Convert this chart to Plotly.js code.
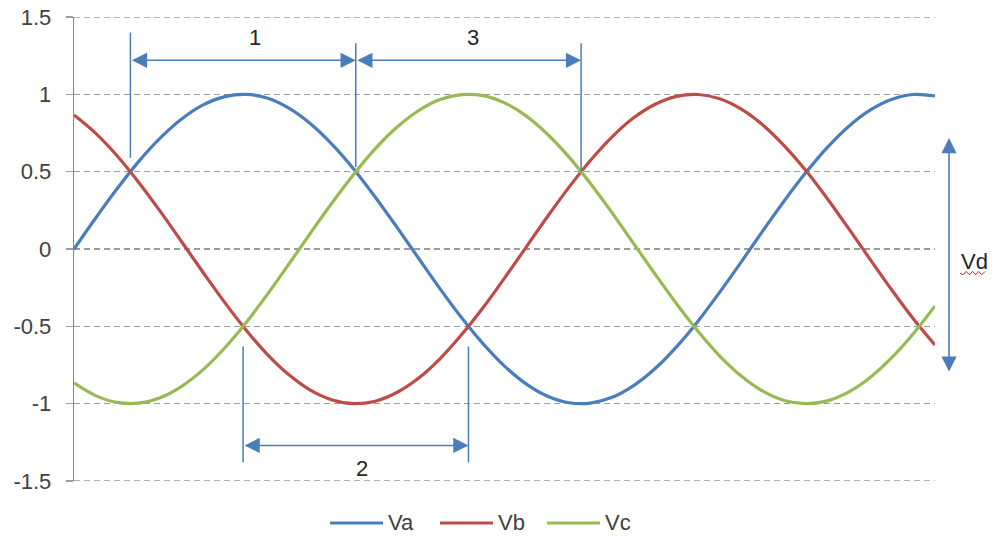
<!DOCTYPE html>
<html>
<head>
<meta charset="utf-8">
<script src="https://cdn.plot.ly/plotly-3.0.1.min.js"></script>
<style>html,body{margin:0;padding:0;background:#fff;}#chart{width:999px;height:546px;}</style>
</head>
<body>
<div id="chart"></div>
<script>
// ---- data (angle in radians) ----
const angle = [0,0.2,0.4,0.6,0.8,1.0,1.2,1.4,1.6,1.8,2.0,2.2,2.4,2.6,2.8,3.0,3.2,3.4,3.6,3.8,4.0,
               4.2,4.4,4.6,4.8,5.0,5.2,5.4,5.6,5.8,6.0,6.2,6.4,6.6,6.8,7.0,7.2,7.4,7.6,7.8,8.0];
const Va = [0,0.199,0.389,0.565,0.717,0.841,0.932,0.985,1.000,0.974,0.909,0.808,0.675,0.516,0.335,0.141,
            -0.058,-0.256,-0.443,-0.612,-0.757,-0.872,-0.952,-0.994,-0.996,-0.959,-0.883,-0.773,-0.631,
            -0.465,-0.279,-0.083,0.117,0.312,0.494,0.657,0.794,0.899,0.968,0.999,0.989];
const Vb = [0.866,0.749,0.603,0.432,0.245,0.047,-0.152,-0.345,-0.525,-0.684,-0.815,-0.914,-0.976,-1.000,
            -0.984,-0.928,-0.836,-0.710,-0.555,-0.380,-0.188,0.011,0.210,0.400,0.574,0.725,0.848,0.936,
            0.987,0.999,0.971,0.904,0.802,0.667,0.507,0.325,0.130,-0.070,-0.267,-0.453,-0.621];
const Vc = [-0.866,-0.948,-0.992,-0.997,-0.962,-0.888,-0.780,-0.640,-0.475,-0.290,-0.094,0.106,0.301,0.484,
            0.649,0.787,0.894,0.966,0.998,0.992,0.945,0.861,0.742,0.594,0.422,0.234,0.035,-0.163,-0.356,
            -0.534,-0.692,-0.821,-0.919,-0.979,-1.000,-0.982,-0.924,-0.829,-0.701,-0.546,-0.368];
const seriesNames = ['Va','Vb','Vc'];
const yTicks = [-1.5,-1,-0.5,0,0.5,1,1.5];
const yTickText = ['-1.5','-1','-0.5','0','0.5','1','1.5'];
const yRange = [-1.5, 1.5];

// interval markers: label, start angle, end angle, level, label position
const intervalLabels = ['1','2','3'];
const intervalStart = [0.524, 1.571, 2.618];
const intervalEnd   = [2.618, 3.665, 4.712];
const intervalLevel = [1.22, -1.27, 1.22];
const intervalTextX = [1.68, 2.68, 3.71];
const intervalTextY = [1.37, -1.42, 1.37];
// marker lines: angle, top, bottom
const markerX   = [0.524, 2.618, 4.712, 1.571, 3.665];
const markerTop = [1.40, 1.33, 1.33, -0.63, -0.63];
const markerBot = [0.59, 0.53, 0.50, -1.38, -1.38];

const colors = ['#4A7EBB','#BE4B48','#98B954'];
const arrowColor = '#4A7EBB';
const gridColor = '#9c9c9c';
const gridDash = '6px,4px';
const font = 'Liberation Sans, Arial, sans-serif';
const txtSize = 22;

const traces = [Va, Vb, Vc].map((v, i) => ({
  x: angle, y: v, type: 'scatter', mode: 'lines', name: seriesNames[i],
  line: {color: colors[i], width: 3.2, shape: 'spline', smoothing: 1},
  hoverinfo: 'skip', showlegend: false
}));

const shapes = [];
const annotations = [];

// gridlines at the range ends (Plotly skips them)
yRange.forEach(v => shapes.push({
  type: 'line', xref: 'paper', yref: 'y', x0: 0, x1: 1, y0: v, y1: v, layer: 'below',
  line: {color: gridColor, width: 1.5, dash: gridDash}
}));

markerX.forEach((x, i) => shapes.push({
  type: 'line', xref: 'x', yref: 'y', x0: x, x1: x, y0: markerTop[i], y1: markerBot[i],
  line: {color: arrowColor, width: 1.5}
}));

intervalLabels.forEach((lab, i) => {
  annotations.push({
    xref: 'x', yref: 'y', axref: 'x', ayref: 'y',
    x: intervalEnd[i], y: intervalLevel[i], ax: intervalStart[i], ay: intervalLevel[i],
    text: '', showarrow: true, arrowside: 'end+start',
    arrowhead: 2, startarrowhead: 2, arrowsize: 1.9, startarrowsize: 1.9,
    arrowwidth: 1.6, arrowcolor: arrowColor, standoff: 0, startstandoff: 0
  });
  annotations.push({
    xref: 'x', yref: 'y', x: intervalTextX[i], y: intervalTextY[i],
    xanchor: 'center', yanchor: 'middle',
    text: lab, showarrow: false, font: {family: font, size: txtSize, color: '#262626'}
  });
});

// Vd double arrow (right of the plot)
annotations.push({
  xref: 'paper', yref: 'paper', x: 1.0163, y: 0.739, ax: 0, ay: 235,
  text: '', showarrow: true, arrowside: 'end+start',
  arrowhead: 2, startarrowhead: 2, arrowsize: 1.9, startarrowsize: 1.9,
  arrowwidth: 1.6, arrowcolor: arrowColor, standoff: 0, startstandoff: 0
});
annotations.push({
  xref: 'paper', yref: 'paper', x: 1.0275, y: 0.472, xanchor: 'left', yanchor: 'middle',
  text: 'Vd', showarrow: false,
  font: {family: font, size: txtSize, color: '#262626'}
});
// spell-check squiggle under Vd
(function(){
  const x0 = 1.0290, x1 = 1.0580, yb = 0.4480, n = 8, amp = 0.0035;
  let p = 'M' + x0 + ',' + yb;
  for (let k = 1; k <= n; k++) {
    p += ' L' + (x0 + (x1 - x0) * k / n) + ',' + (yb + (k % 2 ? -amp : amp));
  }
  shapes.push({type: 'path', xref: 'paper', yref: 'paper', path: p, line: {color: '#E02020', width: 1}});
})();

// manual legend
const legX0 = [0.2973, 0.4251, 0.5494];
const legLen = 0.0616;
const legY = -0.0905;
seriesNames.forEach((n, i) => {
  shapes.push({type: 'line', xref: 'paper', yref: 'paper', x0: legX0[i], x1: legX0[i] + legLen,
    y0: legY, y1: legY, line: {color: colors[i], width: 3.2}});
  annotations.push({xref: 'paper', yref: 'paper', x: legX0[i] + legLen + 0.003, y: legY,
    xanchor: 'left', yanchor: 'middle', text: n, showarrow: false,
    font: {family: font, size: txtSize, color: '#404040'}});
});

const layout = {
  width: 999, height: 546,
  margin: {l: 74, r: 64, t: 17, b: 65},
  paper_bgcolor: '#ffffff', plot_bgcolor: '#ffffff',
  showlegend: false,
  xaxis: {range: [0, 8], showgrid: false, zeroline: false, showticklabels: false,
          showline: false, ticks: ''},
  yaxis: {range: yRange, tickvals: yTicks, ticktext: yTickText,
          showgrid: true, gridcolor: gridColor, gridwidth: 1.5, griddash: gridDash,
          zeroline: false, showline: true, linecolor: '#868686', linewidth: 1.3,
          ticks: 'outside', ticklen: 7, tickcolor: gridColor, tickwidth: 1.5,
          ticklabelstandoff: 10,
          tickfont: {family: font, size: txtSize, color: '#404040'}},
  shapes: shapes,
  annotations: annotations
};

Plotly.newPlot('chart', traces, layout, {displayModeBar: false, staticPlot: true});
</script>
</body>
</html>
